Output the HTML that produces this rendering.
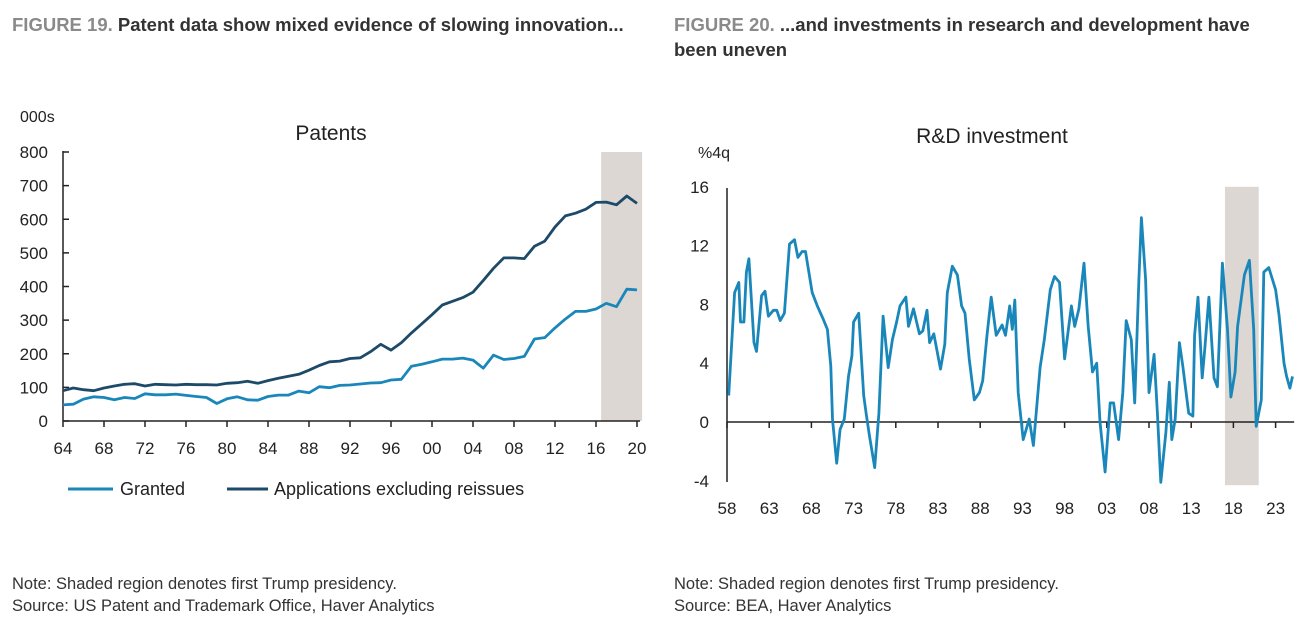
<!DOCTYPE html>
<html><head><meta charset="utf-8"><style>
body{margin:0;background:#fff;font-family:"Liberation Sans",sans-serif;}
#root{position:relative;width:1302px;height:618px;overflow:hidden;}
.h{position:absolute;font-weight:bold;font-size:18.5px;color:#333;line-height:25px;}
.h b{color:#8a8a8a;}
.note{position:absolute;font-size:16.5px;color:#333;line-height:22px;}
svg text{font-family:"Liberation Sans",sans-serif;fill:#222;}
</style></head><body><div id="root">
<div class="h" style="left:12px;top:12px;width:650px;white-space:nowrap"><b>FIGURE 19.</b> Patent data show mixed evidence of slowing innovation...</div>
<div class="h" style="left:674px;top:12px;width:610px"><b>FIGURE 20.</b> ...and investments in research and development have been uneven</div>
<svg id="c1" width="660" height="520" style="position:absolute;left:0;top:0"></svg>
<svg id="c2" width="642" height="520" style="position:absolute;left:660px;top:0"></svg>
<div class="note" style="left:12px;top:573px">Note: Shaded region denotes first Trump presidency.<br>Source: US Patent and Trademark Office, Haver Analytics</div>
<div class="note" style="left:674px;top:573px">Note: Shaded region denotes first Trump presidency.<br>Source: BEA, Haver Analytics</div>
</div>
<script>
const patentYears=[1964,1965,1966,1967,1968,1969,1970,1971,1972,1973,1974,1975,1976,1977,1978,1979,1980,1981,1982,1983,1984,1985,1986,1987,1988,1989,1990,1991,1992,1993,1994,1995,1996,1997,1998,1999,2000,2001,2002,2003,2004,2005,2006,2007,2008,2009,2010,2011,2012,2013,2014,2015,2016,2017,2018,2019,2020];
const granted=[48,50,65,72,70,63,70,67,81,78,78,80,76,73,70,52,66,72,63,62,73,77,77,89,84,102,99,106,107,110,113,114,122,124,163,169,176,184,184,187,181,157,196,183,186,192,244,248,277,303,326,326,333,350,340,392,390];
const applications=[90,98,93,90,98,104,109,111,104,109,108,107,109,108,108,107,112,114,118,112,120,127,133,139,151,165,176,178,186,188,206,228,211,233,262,289,316,345,356,367,383,418,454,485,485,483,520,535,577,610,618,630,650,651,643,669,647];
const patentTicksY=[0,100,200,300,400,500,600,700,800];
const patentTickLabelsX=["64","68","72","76","80","84","88","92","96","00","04","08","12","16","20"];
const rdYears=[58.2,58.9,59.4,59.6,60.0,60.3,60.6,61.2,61.5,62.1,62.5,62.9,63.5,63.9,64.3,64.8,65.4,66.0,66.4,66.9,67.3,68.1,68.7,69.4,69.9,70.3,70.5,71.0,71.4,71.9,72.4,72.8,73.0,73.6,74.2,74.5,74.9,75.5,76.0,76.5,77.1,77.6,78.1,78.5,79.2,79.5,80.1,80.8,81.2,81.7,82.0,82.5,83.3,83.8,84.1,84.7,85.3,85.8,86.2,86.7,87.3,87.9,88.3,88.8,89.3,89.9,90.6,91.0,91.5,91.8,92.1,92.5,93.1,93.8,94.3,95.1,95.6,96.3,96.8,97.4,98.0,98.8,99.2,99.7,100.3,100.8,101.3,101.8,102.2,102.8,103.4,103.8,104.4,104.9,105.3,105.9,106.3,106.8,107.1,107.6,108.0,108.6,109.0,109.4,110.0,110.4,110.7,111.1,111.6,112.0,112.7,113.2,113.4,113.8,114.3,114.6,115.1,115.7,116.1,116.7,117.3,117.7,118.2,118.5,119.3,119.9,120.4,120.7,121.3,121.6,122.2,123.0,123.4,124.0,124.3,124.7,125.0];
const rdValues=[1.8,8.8,9.5,6.8,6.8,10.2,11.1,5.4,4.8,8.6,8.9,7.2,7.6,7.6,6.9,7.4,12.1,12.4,11.2,11.6,11.6,8.8,7.9,7.0,6.3,3.8,0.2,-2.8,-0.5,0.2,3.1,4.5,6.8,7.4,1.8,0.5,-1.0,-3.1,0.6,7.2,3.7,5.6,6.8,7.9,8.5,6.5,7.7,6.0,6.2,7.6,5.4,6.0,3.6,5.3,8.8,10.6,10.0,7.9,7.4,4.3,1.5,2.0,2.8,5.9,8.5,5.9,6.6,5.9,7.9,6.3,8.3,2.0,-1.2,0.2,-1.6,3.7,5.6,9.0,9.9,9.5,4.3,7.9,6.5,7.7,10.8,6.5,3.4,4.0,0.0,-3.4,1.3,1.3,-1.2,2.0,6.9,5.6,1.3,9.7,13.9,9.7,2.0,4.6,0.6,-4.1,-0.7,2.7,-1.2,0.2,5.4,3.8,0.6,0.4,5.9,8.5,3.0,4.9,8.5,3.0,2.4,10.8,6.3,1.7,3.4,6.5,10.0,11.0,6.3,-0.3,1.5,10.2,10.5,9.0,7.3,4.0,3.1,2.3,3.1];
const rdTicksY=[-4,0,4,8,12,16];
const rdTickLabelsX=["58","63","68","73","78","83","88","93","98","03","08","13","18","23"];

const NS="http://www.w3.org/2000/svg";
function mk(svg,tag,attrs,txt){const e=document.createElementNS(NS,tag);for(const k in attrs)e.setAttribute(k,attrs[k]);if(txt!==undefined)e.textContent=txt;svg.appendChild(e);return e;}

// Chart 1
(function(){
const s=document.getElementById('c1');
const x=y=>63+(y-1964)*10.25, yv=v=>421-v*0.33625;
let e=mk(s,'rect',{x:x(2016.5),y:yv(800),width:x(2020.5)-x(2016.5),height:yv(0)-yv(800),fill:'#ddd7d4'});


e=mk(s,'text',{x:331,y:140,'font-size':21,'text-anchor':'middle'},'Patents');


e=mk(s,'text',{x:20,y:122,'font-size':16},'000s');


patentTicksY.forEach(v=>{
 e=mk(s,'text',{x:48,y:yv(v)+6,'font-size':17,'text-anchor':'end'},String(v));
 
 
 mk(s,'line',{x1:63,x2:69,y1:yv(v),y2:yv(v),stroke:'#222','stroke-width':1.5});
});
patentTickLabelsX.forEach((l,i)=>{
 const xx=x(1964+i*4);
 mk(s,'line',{x1:xx,x2:xx,y1:421,y2:427,stroke:'#222','stroke-width':1.5});
 e=mk(s,'text',{x:xx,y:454,'font-size':17,'text-anchor':'middle'},l);
 
 
});
mk(s,'line',{x1:63,x2:63,y1:151,y2:421,stroke:'#222','stroke-width':1.5});
mk(s,'line',{x1:63,x2:640,y1:421,y2:421,stroke:'#222','stroke-width':1.5});
function line(vals,col,name){const p=vals.map((v,i)=>x(patentYears[i]).toFixed(1)+','+yv(v).toFixed(1)).join(' ');
 const l=mk(s,'polyline',{points:p,fill:'none',stroke:col,'stroke-width':2.8,'stroke-linejoin':'round'});
 
 }
line(applications,'#1d4a68','applications-line');
line(granted,'#1a87ba','granted-line');
mk(s,'line',{x1:68,x2:113,y1:489,y2:489,stroke:'#1a87ba','stroke-width':3});
e=mk(s,'text',{x:120,y:495,'font-size':18},'Granted');


mk(s,'line',{x1:227,x2:268,y1:489,y2:489,stroke:'#1d4a68','stroke-width':3});
e=mk(s,'text',{x:274,y:495,'font-size':18},'Applications excluding reissues');


})();

// Chart 2
(function(){
const s=document.getElementById('c2');
const ox=-660;
const x=y=>727+ox+(y-58)*8.44, yv=v=>422-v*14.7;
let e=mk(s,'rect',{x:x(117),y:yv(16),width:x(121)-x(117),height:yv(-4.3)-yv(16),fill:'#ddd7d4'});


e=mk(s,'text',{x:992+ox,y:143,'font-size':21,'text-anchor':'middle'},'R&D investment');


e=mk(s,'text',{x:698+ox,y:158,'font-size':16},'%4q');


rdTicksY.forEach(v=>{
 e=mk(s,'text',{x:709+ox,y:yv(v)+6,'font-size':17,'text-anchor':'end'},String(v));
 
 
});
rdTickLabelsX.forEach((l,i)=>{
 const xx=x(58+i*5);
 mk(s,'line',{x1:xx,x2:xx,y1:422,y2:428,stroke:'#222','stroke-width':1.5});
 e=mk(s,'text',{x:xx,y:514,'font-size':17,'text-anchor':'middle'},l);
 
 
});
mk(s,'line',{x1:x(58),x2:x(58),y1:188,y2:482,stroke:'#222','stroke-width':1.5});
mk(s,'line',{x1:x(58),x2:x(125.2),y1:422,y2:422,stroke:'#222','stroke-width':1.5});
const p=rdValues.map((v,i)=>x(rdYears[i]).toFixed(1)+','+yv(v).toFixed(1)).join(' ');
e=mk(s,'polyline',{points:p,fill:'none',stroke:'#1a87ba','stroke-width':2.8,'stroke-linejoin':'round'});


})();
</script></body></html>
